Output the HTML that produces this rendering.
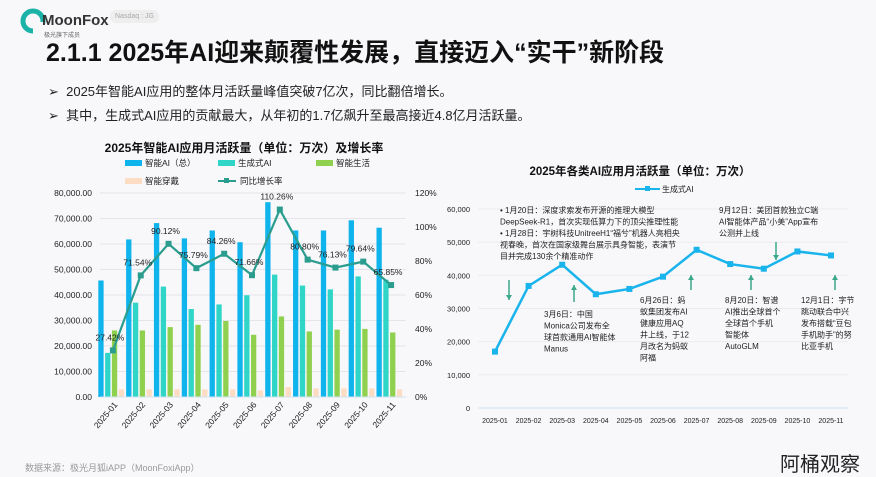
<!DOCTYPE html>
<html><head><meta charset="utf-8">
<style>
body{margin:0;width:876px;height:474px;background:#f8f7fa;font-family:"Liberation Sans","Noto Sans CJK SC",sans-serif;position:relative;overflow:hidden}
.a{position:absolute;white-space:nowrap}
</style></head><body>
<div class="a" style="left:20px;top:8px;">
<svg width="30" height="26"><circle cx="13" cy="13" r="10" fill="none" stroke="#1bb3a8" stroke-width="5"/><rect x="13" y="14" width="12" height="12" fill="#f8f7fa"/></svg>
<span style="position:absolute;left:22px;top:4px;font-size:15px;font-weight:bold;color:#333">MoonFox</span>
<span style="position:absolute;left:24px;top:22px;font-size:6px;color:#666">极光旗下成员</span>
</div>
<div class="a" style="left:110px;top:10px;font-size:7px;color:#aaa;background:#eee;border-radius:6px;padding:3px 5px">Nasdaq : JG</div>
<div class="a" style="left:46px;top:33px;font-size:25px;font-weight:bold;color:#111">2.1.1 2025年AI迎来颠覆性发展，直接迈入“实干”新阶段</div>
<div class="a" style="left:48px;top:81px;font-size:13px;color:#222">➢ &nbsp;2025年智能AI应用的整体月活跃量峰值突破7亿次，同比翻倍增长。</div>
<div class="a" style="left:48px;top:105px;font-size:13px;color:#222">➢ &nbsp;其中，生成式AI应用的贡献最大，从年初的1.7亿飙升至最高接近4.8亿月活跃量。</div>
<div class="a" style="left:25px;top:461px;font-size:9px;color:#999">数据来源：极光月狐iAPP（MoonFoxiApp）</div>
<div class="a" style="left:780px;top:448px;font-size:20px;color:#222">阿桶观察</div>
<svg id="c1" class="a" style="left:0;top:0" width="876" height="474"></svg>
<script>
const cats=["2025-01","2025-02","2025-03","2025-04","2025-05","2025-06","2025-07","2025-08","2025-09","2025-10","2025-11"];
const totalAI=[45700,61800,68200,62200,65300,60700,76400,65300,65300,69300,66400];
const genAI=[17300,37000,43300,34500,36300,39900,48000,43700,42200,47300,46000];
const lifeAI=[26100,26100,27400,28300,29800,24400,31600,25700,26400,26700,25300];
const wearAI=[3000,3000,3000,3000,3000,2600,3900,3400,3400,3400,3000];
const growth=[27.42,71.54,90.12,75.79,84.26,71.66,110.26,80.80,76.13,79.64,65.85];
const leftTicks=[0,10000,20000,30000,40000,50000,60000,70000,80000];
const rightTicks=[0,20,40,60,80,100,120];
const genLine=[17000,36800,43200,34300,35900,39600,47700,43400,42000,47200,46000];
const rTicks=[0,10000,20000,30000,40000,50000,60000];

const NS="http://www.w3.org/2000/svg";
const svg=document.getElementById('c1');
function mk(t,at,txt){const e=document.createElementNS(NS,t);for(const k in at)e.setAttribute(k,at[k]);if(txt!==undefined)e.textContent=txt;svg.appendChild(e);return e;}
const F='"Liberation Sans","Noto Sans CJK SC",sans-serif';
const y0=397,yTop=193,x0=100,x1=406;
const yL=v=>y0-v/80000*(y0-yTop);
const yR=v=>y0-v/120*(y0-yTop);
const bw=(x1-x0)/cats.length;
const xc=i=>x0+bw*(i+0.5);
let t=mk('text',{x:244,y:152,'font-size':12,'font-weight':'bold','text-anchor':'middle','font-family':F,fill:'#111'},'2025年智能AI应用月活跃量（单位：万次）及增长率');

leftTicks.forEach(v=>{const l=mk('line',{x1:x0,x2:x1,y1:yL(v),y2:yL(v),stroke:'#e4e4ea','stroke-width':1});

const tx=mk('text',{x:92,y:yL(v)+3,'font-size':8.5,'text-anchor':'end','font-family':F,fill:'#222'},v.toLocaleString('en-US',{minimumFractionDigits:2}));
});
rightTicks.forEach(v=>{const tx=mk('text',{x:415,y:yR(v)+3,'font-size':8.5,'font-family':F,fill:'#222'},v+'%');
});
const series=[[totalAI,'#10b4ec'],[genAI,'#2fd6c8'],[lifeAI,'#8fd14f'],[wearAI,'#fddcc4']];
const w=5.3;
cats.forEach((c,i)=>{
 series.forEach((s,j)=>{const x=xc(i)-2*w+j*w-5+j*1.5;
  const r=mk('rect',{x:x,y:yL(s[0][i]),width:w,height:y0-yL(s[0][i]),fill:s[1]});
  });
 const tx=mk('text',{transform:`translate(${xc(i)+4},${y0+8}) rotate(-50)`,'font-size':8.5,'text-anchor':'end','font-family':F,fill:'#222'},c);
 
});
mk('line',{x1:x0,x2:x1,y1:y0,y2:y0,stroke:'#cfe3f2'});
const pts=growth.map((g,i)=>[xc(i)-1,yR(g)]);
const pl=mk('polyline',{points:pts.map(p=>p.join(',')).join(' '),fill:'none',stroke:'#2a9d8f','stroke-width':2.2});

pts.forEach((p,i)=>{const r=mk('rect',{x:p[0]-3,y:p[1]-3,width:6,height:6,fill:'#2a9d8f'});
 
 const tx=mk('text',{x:p[0]-3,y:p[1]-10,'font-size':8.5,'text-anchor':'middle','font-family':F,fill:'#222'},growth[i].toFixed(2)+'%');
 });
const leg=[['智能AI（总）','#10b4ec',125,166],['生成式AI','#2fd6c8',218,166],['智能生活','#8fd14f',316,166],['智能穿戴','#fddcc4',125,184]];
leg.forEach(l=>{const r=mk('rect',{x:l[2],y:l[3]-6,width:17,height:6,fill:l[1]});
 
 const tx=mk('text',{x:l[2]+20,y:l[3],'font-size':8.5,'font-family':F,fill:'#222'},l[0]);
 });
mk('line',{x1:218,x2:236,y1:181,y2:181,stroke:'#2a9d8f','stroke-width':2});
mk('rect',{x:224,y:178,width:5,height:5,fill:'#2a9d8f'});
t=mk('text',{x:240,y:184,'font-size':8.5,'font-family':F,fill:'#222'},'同比增长率');


const ry0=408,ryT=209,rx0=495,rx1=831;
const yr=v=>ry0-v/60000*(ry0-ryT);
const xr=i=>rx0+(rx1-rx0)*i/(cats.length-1);
t=mk('text',{x:640,y:175,'font-size':11.5,'font-weight':'bold','text-anchor':'middle','font-family':F,fill:'#111'},'2025年各类AI应用月活跃量（单位：万次）');

mk('line',{x1:635,x2:660,y1:189,y2:189,stroke:'#19b4ec','stroke-width':2});
mk('rect',{x:645,y:186,width:5,height:5,fill:'#19b4ec'});
t=mk('text',{x:662,y:192,'font-size':8,'font-family':F,fill:'#222'},'生成式AI');

rTicks.forEach(v=>{const l=mk('line',{x1:478,x2:848,y1:yr(v),y2:yr(v),stroke:v?'#ececf0':'#cfe3f2'});
 
 const tx=mk('text',{x:470,y:yr(v)+3,'font-size':7.5,'text-anchor':'end','font-family':F,fill:'#222'},v.toLocaleString('en-US'));
 });
cats.forEach((c,i)=>{const tx=mk('text',{x:xr(i),y:423,'font-size':7,'text-anchor':'middle','font-family':F,fill:'#222'},c);
 });
const rp=genLine.map((v,i)=>[xr(i),yr(v)]);
const pl2=mk('polyline',{points:rp.map(p=>p.join(',')).join(' '),fill:'none',stroke:'#19b4ec','stroke-width':2.5});

rp.forEach(p=>{const r=mk('rect',{x:p[0]-3,y:p[1]-3,width:6,height:6,fill:'#19b4ec'});
 });
const notes=[[500,213,['•  1月20日：深度求索发布开源的推理大模型','    DeepSeek-R1，首次实现低算力下的顶尖推理性能','•  1月28日：宇树科技UnitreeH1“福兮”机器人亮相央','    视春晚，首次在国家级舞台展示具身智能，表演节','    目并完成130余个精准动作']],
[719,213,['9月12日：美团首款独立C端','AI智能体产品“小美”App宣布','公测并上线']],
[544,317,['3月6日：中国','Monica公司发布全','球首款通用AI智能体','Manus']],
[640,303,['6月26日：蚂','蚁集团发布AI','健康应用AQ','井上线，于12','月改名为蚂蚁','阿福']],
[725,303,['8月20日：智谱','AI推出全球首个','全球首个手机','智能体','AutoGLM']],
[801,303,['12月1日：字节','跳动联合中兴','发布搭载“豆包','手机助手”的努','比亚手机']]];
notes.forEach(n=>n[2].forEach((s,k)=>{const tx=mk('text',{x:n[0],y:n[1]+k*11.5,'font-size':8,'font-family':F,fill:'#222','xml:space':'preserve'},s);
 }));
const arrows=[[509,280,300],[574,302,285],[691,290,275],[751,290,275],[776,242,260],[835,290,275]];
arrows.forEach(a=>{const up=a[2]<a[1];const l=mk('line',{x1:a[0],x2:a[0],y1:a[1],y2:a[2],stroke:'#3aa88a','stroke-width':1.5});
 
 const tip=a[2];mk('polygon',{points:`${a[0]-3},${tip+(up?5:-5)} ${a[0]+3},${tip+(up?5:-5)} ${a[0]},${tip}`,fill:'#3aa88a'});});
</script>
</body></html>
